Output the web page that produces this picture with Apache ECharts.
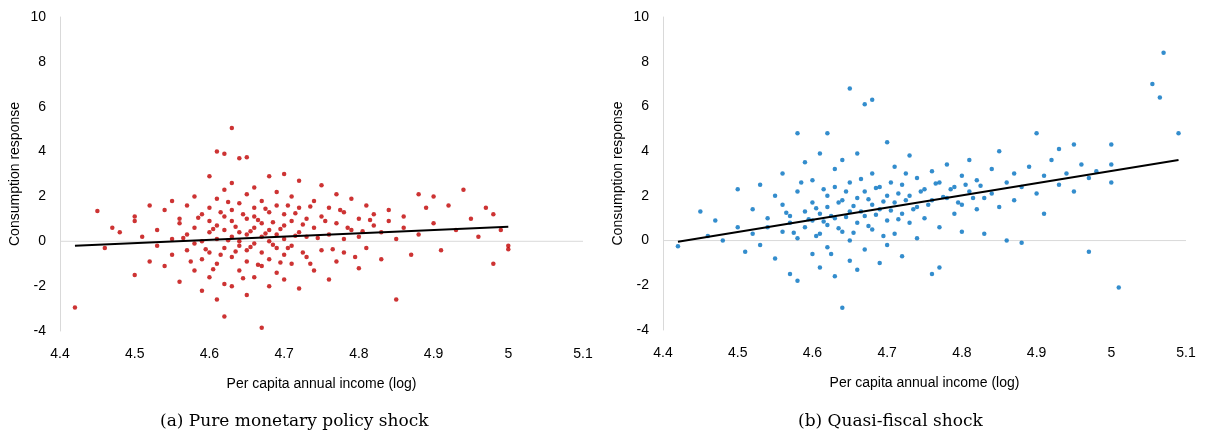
<!DOCTYPE html>
<html>
<head>
<meta charset="utf-8">
<script src="https://cdn.jsdelivr.net/npm/echarts@6/dist/echarts.min.js"></script>
<style>
  html, body { margin: 0; padding: 0; background: #fff; }
  #main { width: 1212px; height: 439px; }
</style>
</head>
<body>
<div id="main"></div>
<script>
// tick values
var xTicks = [4.4, 4.5, 4.6, 4.7, 4.8, 4.9, 5, 5.1];
var yTicks = [-4, -2, 0, 2, 4, 6, 8, 10];

// (a) pure monetary policy shock: [log income, response]
var monetaryPoints = [
  [4.42,-2.95],[4.45,1.35],[4.46,-0.3],[4.47,0.6],[4.48,0.4],[4.5,-1.5],[4.5,1.1],[4.5,0.9],[4.51,0.2],[4.52,-0.9],
  [4.52,1.6],[4.53,0.5],[4.53,-0.2],[4.54,1.4],[4.54,-1.1],[4.55,0.1],[4.55,1.8],[4.55,-0.6],[4.56,0.8],[4.56,-1.8],
  [4.56,1.0],[4.57,-0.4],[4.57,0.3],[4.57,1.6],[4.58,-1.3],[4.58,0.6],[4.58,2.0],[4.58,-0.1],[4.59,1.2],[4.59,-0.8],
  [4.59,0.0],[4.59,-2.2],[4.6,2.9],[4.6,0.4],[4.6,-1.6],[4.6,1.5],[4.6,-0.5],[4.6,0.9],[4.61,4.0],[4.61,-2.6],
  [4.61,1.9],[4.61,0.1],[4.61,-1.0],[4.61,0.7],[4.62,3.9],[4.62,-3.35],[4.62,1.1],[4.62,-0.3],[4.62,0.5],[4.62,2.3],
  [4.62,-1.9],[4.63,5.05],[4.63,0.2],[4.63,-0.7],[4.63,1.4],[4.63,-2.0],[4.63,0.9],[4.63,2.6],[4.64,3.7],[4.64,-0.2],
  [4.64,1.7],[4.64,-1.3],[4.64,0.4],[4.64,0.0],[4.65,3.75],[4.65,1.0],[4.65,-0.9],[4.65,2.1],[4.65,-2.4],[4.65,0.3],
  [4.65,-0.4],[4.66,1.5],[4.66,-1.6],[4.66,0.6],[4.66,2.4],[4.66,-0.1],[4.66,1.1],[4.67,-3.85],[4.67,0.2],[4.67,1.8],
  [4.67,-1.1],[4.67,0.8],[4.67,-0.5],[4.68,2.9],[4.68,0.0],[4.68,-2.0],[4.68,1.3],[4.68,0.5],[4.68,-0.8],[4.69,1.6],
  [4.69,-1.4],[4.69,0.3],[4.69,2.2],[4.69,-0.3],[4.7,3.0],[4.7,0.7],[4.7,-1.7],[4.7,1.2],[4.7,-0.6],[4.7,0.1],
  [4.71,2.0],[4.71,-1.0],[4.71,0.9],[4.71,-0.2],[4.72,1.5],[4.72,-2.1],[4.72,0.4],[4.72,2.7],[4.73,-0.7],[4.73,1.0],
  [4.73,0.2],[4.74,-1.3],[4.74,1.8],[4.74,0.6],[4.75,2.5],[4.75,-0.4],[4.75,1.1],[4.76,-1.7],[4.76,0.3],[4.76,1.5],
  [4.77,0.8],[4.77,-0.9],[4.77,2.1],[4.78,0.1],[4.78,1.3],[4.78,-0.5],[4.79,1.9],[4.79,0.5],[4.8,-1.2],[4.8,1.0],
  [4.8,0.2],[4.81,1.6],[4.81,-0.3],[4.82,0.7],[4.82,1.2],[4.83,-0.8],[4.83,0.4],[4.84,1.4],[4.84,0.9],[4.85,-2.6],
  [4.85,0.1],[4.86,1.1],[4.86,0.6],[4.87,-0.6],[4.88,2.1],[4.88,0.3],[4.89,1.5],[4.9,2.0],[4.9,0.8],[4.91,-0.4],
  [4.92,1.6],[4.93,0.5],[4.94,2.3],[4.95,1.0],[4.96,0.2],[4.97,1.5],[4.98,-1.0],[4.98,1.2],[4.99,0.5],[5.0,-0.2],
  [5.0,-0.35],
  [4.565,0.15],[4.575,-0.9],[4.585,1.05],[4.595,-0.35],[4.605,0.55],[4.605,-1.25],[4.615,1.3],[4.615,-0.6],[4.625,0.05],[4.625,1.75],
  [4.635,-0.45],[4.635,0.65],[4.645,-1.65],[4.645,1.2],[4.655,0.45],[4.655,-0.25],[4.665,0.95],[4.665,-1.05],[4.675,0.35],[4.675,1.45],
  [4.685,-0.15],[4.685,0.85],[4.695,-0.95],[4.695,0.55],[4.705,1.6],[4.705,-0.3],[4.715,0.25],[4.715,1.25],[4.725,-0.5],[4.725,0.75],
  [4.735,1.55],[4.735,-1.0],[4.745,0.15],[4.755,0.9],[4.765,-0.35],[4.775,1.4],[4.785,0.6],[4.795,-0.7],[4.805,0.45],[4.815,0.95]
];
var monetaryFit = [[4.42,-0.2],[5.0,0.65]];

// (b) quasi-fiscal shock
var fiscalPoints = [
  [4.42,-0.25],[4.45,1.3],[4.46,0.2],[4.47,0.9],[4.48,0.0],[4.5,2.3],[4.5,0.6],[4.51,-0.5],[4.52,1.4],[4.52,0.3],
  [4.53,2.5],[4.53,-0.2],[4.54,1.0],[4.54,0.6],[4.55,2.0],[4.55,-0.8],[4.56,1.6],[4.56,0.4],[4.56,3.0],[4.57,1.1],
  [4.57,-1.5],[4.57,0.8],[4.58,4.8],[4.58,2.2],[4.58,0.1],[4.58,-1.8],[4.59,1.3],[4.59,3.5],[4.59,0.6],[4.6,2.7],
  [4.6,-0.6],[4.6,1.7],[4.6,0.9],[4.61,3.9],[4.61,1.2],[4.61,-1.2],[4.61,0.3],[4.62,4.8],[4.62,2.0],[4.62,0.7],
  [4.62,-0.3],[4.62,1.5],[4.63,3.2],[4.63,1.0],[4.63,-1.6],[4.63,2.4],[4.64,-3.0],[4.64,1.8],[4.64,0.4],[4.64,3.6],
  [4.65,6.8],[4.65,1.3],[4.65,-0.9],[4.65,2.6],[4.65,0.0],[4.66,1.9],[4.66,3.9],[4.66,0.8],[4.66,-1.3],[4.67,6.1],
  [4.67,2.2],[4.67,1.1],[4.67,-0.4],[4.68,6.3],[4.68,1.6],[4.68,3.0],[4.68,0.5],[4.69,2.4],[4.69,-1.0],[4.69,1.4],
  [4.7,4.4],[4.7,2.0],[4.7,0.9],[4.7,-0.2],[4.71,1.7],[4.71,3.3],[4.71,0.3],[4.72,2.5],[4.72,1.2],[4.72,-0.7],
  [4.73,2.0],[4.73,3.8],[4.73,0.8],[4.74,1.5],[4.74,2.8],[4.74,0.1],[4.75,2.3],[4.75,1.0],[4.76,3.1],[4.76,1.8],
  [4.76,-1.5],[4.77,2.6],[4.77,0.6],[4.77,-1.2],[4.78,1.9],[4.78,3.4],[4.79,1.2],[4.79,2.4],[4.8,2.9],[4.8,1.6],
  [4.8,0.4],[4.81,2.2],[4.81,3.6],[4.82,1.4],[4.82,2.7],[4.83,1.9],[4.83,0.3],[4.84,3.2],[4.84,2.1],[4.85,4.0],
  [4.85,1.5],[4.86,2.6],[4.86,0.0],[4.87,3.0],[4.87,1.8],[4.88,-0.1],[4.88,2.4],[4.89,3.3],[4.9,4.8],[4.9,2.1],
  [4.91,2.9],[4.91,1.2],[4.92,3.6],[4.93,2.5],[4.93,4.1],[4.94,3.0],[4.95,2.2],[4.95,4.3],[4.96,3.4],[4.97,-0.5],
  [4.97,2.8],[4.98,3.1],[5.0,3.4],[5.0,4.3],[5.0,2.6],[5.01,-2.1],[5.055,7.0],[5.065,6.4],[5.07,8.4],[5.09,4.8],
  [4.565,1.25],[4.575,0.35],[4.585,2.6],[4.595,0.95],[4.605,1.45],[4.605,0.2],[4.615,2.3],[4.615,0.85],[4.625,1.1],[4.625,-0.6],
  [4.635,1.7],[4.635,0.55],[4.645,2.2],[4.645,1.05],[4.655,1.55],[4.655,0.35],[4.665,2.75],[4.665,1.3],[4.675,0.65],[4.675,1.85],
  [4.685,2.35],[4.685,1.15],[4.695,1.75],[4.695,0.2],[4.705,2.6],[4.705,1.35],[4.715,2.1],[4.715,0.95],[4.725,1.8],[4.725,3.0],
  [4.735,1.4],[4.745,2.2],[4.755,1.6],[4.765,2.55],[4.775,1.95],[4.785,2.3],[4.795,1.7],[4.805,2.5],[4.815,1.9],[4.825,2.45]
];
var fiscalFit = [[4.42,-0.05],[5.09,3.6]];

var chart = echarts.init(document.getElementById('main'));
var font = 'Liberation Sans, Arial, sans-serif';

function xAxis(idx) {
  return {
    gridIndex: idx, type: 'value', min: 4.4, max: 5.1, interval: 0.1,
    name: 'Per capita annual income (log)', nameLocation: 'middle', nameGap: 46,
    nameTextStyle: { fontFamily: font, fontSize: 14, color: '#000' },
    axisLine: { show: false }, axisTick: { show: false }, splitLine: { show: false },
    axisLabel: { fontFamily: font, fontSize: 14, color: '#000', margin: 16,
      formatter: function (v) { return String(+v.toFixed(1)); } }
  };
}
function yAxis(idx) {
  return {
    gridIndex: idx, type: 'value', min: -4, max: 10, interval: 2,
    name: 'Consumption response', nameLocation: 'middle', nameGap: 38,
    nameTextStyle: { fontFamily: font, fontSize: 14, color: '#000' },
    axisLine: { show: true, lineStyle: { color: '#d9d9d9' } },
    axisTick: { show: false }, splitLine: { show: false },
    axisLabel: { fontFamily: font, fontSize: 14, color: '#000', margin: 14 }
  };
}
// light zero line across each plot
function zeroLine(xi) {
  return { type: 'line', xAxisIndex: xi, yAxisIndex: xi, data: [[4.4, 0], [5.1, 0]], symbol: 'none',
    silent: true, z: 1, lineStyle: { color: '#d9d9d9', width: 1 } };
}

chart.setOption({
  animation: false,
  grid: [
    { left: 60, top: 17, width: 523, height: 314, outerBoundsMode: 'none' },
    { left: 663, top: 17, width: 523, height: 313, outerBoundsMode: 'none' }
  ],
  xAxis: [xAxis(0), xAxis(1)],
  yAxis: [yAxis(0), yAxis(1)],
  series: [
    zeroLine(0), zeroLine(1),
    { type: 'scatter', xAxisIndex: 0, yAxisIndex: 0, data: monetaryPoints, symbolSize: 4.5,
      itemStyle: { color: '#c00000' } },
    { type: 'line', xAxisIndex: 0, yAxisIndex: 0, data: monetaryFit, symbol: 'none',
      lineStyle: { color: '#000', width: 2 } },
    { type: 'scatter', xAxisIndex: 1, yAxisIndex: 1, data: fiscalPoints, symbolSize: 4.5,
      itemStyle: { color: '#0070c0' } },
    { type: 'line', xAxisIndex: 1, yAxisIndex: 1, data: fiscalFit, symbol: 'none',
      lineStyle: { color: '#000', width: 2 } }
  ],
  graphic: [
    { type: 'text', left: 160, top: 413, style: { text: '(a) Pure monetary policy shock',
      font: '17px "DejaVu Serif", "Liberation Serif", serif', fill: '#000' } },
    { type: 'text', left: 798, top: 413, style: { text: '(b) Quasi-fiscal shock',
      font: '17px "DejaVu Serif", "Liberation Serif", serif', fill: '#000' } }
  ]
});
</script>
</body>
</html>
